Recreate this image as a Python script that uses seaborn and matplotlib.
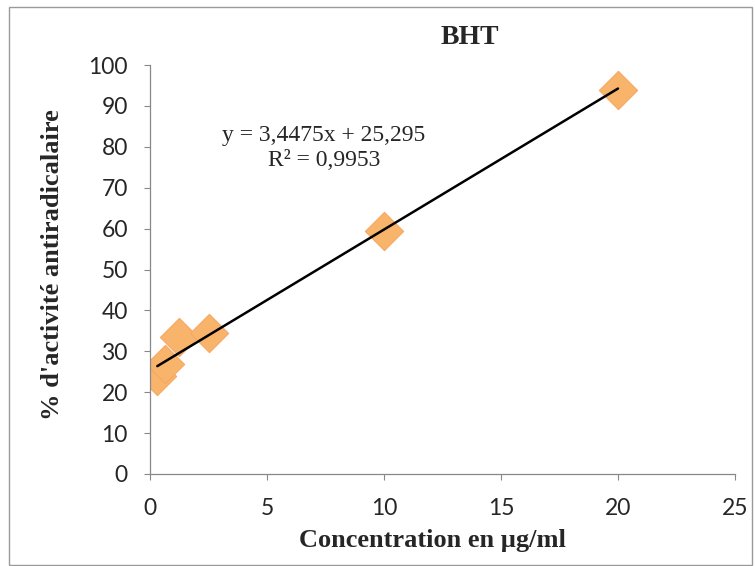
import numpy as np
import pandas as pd
import matplotlib
matplotlib.use("Agg")
import matplotlib.pyplot as plt
import seaborn as sns
from matplotlib.patches import Rectangle

# Data
concentration = [0.3125, 0.625, 1.25, 2.5, 10, 20]
activite = [24.0, 27.0, 33.5, 34.5, 59.5, 94.0]
slope = 3.4475
intercept = 25.295
equation_text = "y = 3,4475x + 25,295"
r2_text = "R² = 0,9953"
title = "BHT"
xlabel = "Concentration en µg/ml"
ylabel = "% d'activité antiradicalaire"
xticks = [0, 5, 10, 15, 20, 25]
yticks = [0, 10, 20, 30, 40, 50, 60, 70, 80, 90, 100]

sns.set_theme(style="white")
plt.rcParams['font.family'] = ['Lato', 'DejaVu Sans']

fig = plt.figure(figsize=(7.55, 5.66), dpi=100)
ax = fig.add_axes([150/755, 1-474/566, 585/755, 409/566])

df = pd.DataFrame({"x": concentration, "y": activite})
sns.scatterplot(data=df, x="x", y="y", ax=ax, marker="D", s=380,
                color="#F9B46C", edgecolor="#F5A864", linewidth=0.8, zorder=2)

xl = np.array([min(concentration), max(concentration)])
line_df = pd.DataFrame({"x": xl, "y": slope * xl + intercept})
sns.lineplot(data=line_df, x="x", y="y", ax=ax, color="black", linewidth=1.8, zorder=3)

ax.set_xlim(0, 25)
ax.set_ylim(0, 100)
ax.set_xticks(xticks)
ax.set_yticks(yticks)
ax.tick_params(axis="both", labelsize=16.5, length=4, width=0.8, color="#888888",
               direction="out", left=True, bottom=True)
ax.tick_params(axis="y", pad=12)
ax.tick_params(axis="x", pad=13)
for s in ["top", "right"]:
    ax.spines[s].set_visible(False)
for s in ["left", "bottom"]:
    ax.spines[s].set_color("#888888")
    ax.spines[s].set_linewidth(0.9)

ax.set_xlabel(xlabel, fontsize=19, fontweight="bold", family=["Liberation Serif"])
ax.set_ylabel(ylabel, fontsize=19, fontweight="bold", family=["Liberation Serif"])
ax.xaxis.set_label_coords((432-150)/585, -(529-474)/409)
ax.yaxis.set_label_coords(-(150-64)/585, (474-265)/409)

fig.text(470/755, 1-38/566, title, ha="center", va="center", fontsize=20,
         fontweight="bold", family=["Liberation Serif"])
fig.text(324/755, 1-135/566, equation_text, ha="center", va="center", fontsize=17,
         family=["Liberation Serif"])
fig.text(324/755, 1-160/566, r2_text, ha="center", va="center", fontsize=17,
         family=["Liberation Serif"])

fig.patches.append(Rectangle((9/755, 1/566), 743/755, 558/566, transform=fig.transFigure,
                             fill=False, edgecolor="#9a9a9a", linewidth=1.0))

fig.savefig("out.png", dpi=100)
